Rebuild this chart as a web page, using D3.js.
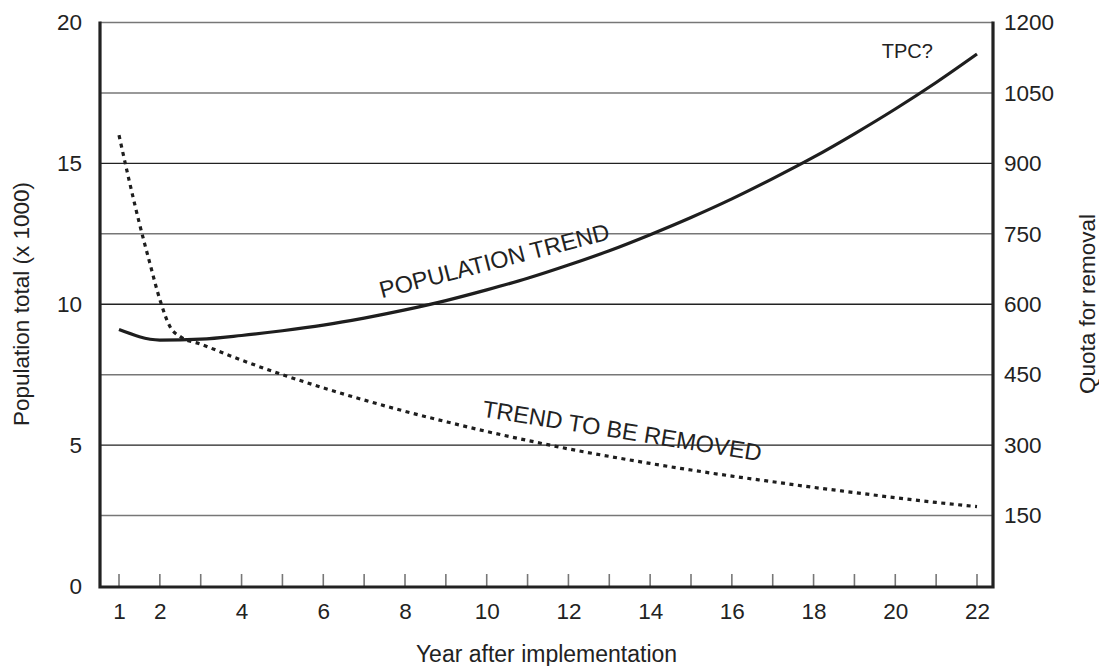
<!DOCTYPE html>
<html>
<head>
<meta charset="utf-8">
<script src="https://cdn.jsdelivr.net/npm/d3@7"></script>
<style>
  body { margin: 0; background: #fff; }
  svg text { font-family: "Liberation Sans", Arial, sans-serif; fill: #222; }
</style>
</head>
<body>
<div id="chart"></div>
<script>
// Data
const years = [1, 2, 3, 4, 5, 6, 7, 8, 9, 10, 11, 12, 13, 14, 15, 16, 17, 18, 19, 20, 21, 22];
const populationTotal = [9.1, 8.73, 8.76, 8.89, 9.06, 9.26, 9.51, 9.8, 10.13, 10.51, 10.92, 11.39,
  11.9, 12.47, 13.08, 13.74, 14.46, 15.22, 16.05, 16.93, 17.87, 18.88];

const quotaYears = [1, 1.25, 1.5, 1.75, 2, 2.25, 2.5, 3, 4, 5, 6, 7, 8, 9, 10, 11, 12, 13, 14, 15,
  16, 17, 18, 19, 20, 21, 22];
const quotaForRemoval = [960, 863, 772, 689, 610, 552, 531, 515, 481, 450, 422, 396, 372, 350, 329,
  310, 292, 276, 261, 247, 234, 222, 210, 199, 188, 178, 169];

const leftTicks = [0, 5, 10, 15, 20];
const rightTicks = [150, 300, 450, 600, 750, 900, 1050, 1200];
const gridValues = [2.5, 5, 7.5, 10, 12.5, 15, 17.5, 20];
const xLabelTicks = [1, 2, 4, 6, 8, 10, 12, 14, 16, 18, 20, 22];

const width = 1099, height = 666;
const plotLeft = 100, plotRight = 993;

const svg = d3.select("#chart").append("svg")
  .attr("width", width)
  .attr("height", height);

// Scales
const x = d3.scaleLinear().domain([1, 22]).range([119, 977]);
const yLeft = d3.scaleLinear().domain([0, 20]).range([586, 22.5]);
const yRight = d3.scaleLinear().domain([0, 1200]).range([586, 22.5]);

// Gridlines: multiples of 5 dark, the rest grey
svg.append("g").selectAll("line")
  .data(gridValues)
  .join("line")
  .attr("x1", plotLeft)
  .attr("x2", plotRight)
  .attr("y1", d => yLeft(d))
  .attr("y2", d => yLeft(d))
  .attr("stroke", d => (d % 5 === 0 && d < 20) ? "#222" : "#777")
  .attr("stroke-width", d => (d % 5 === 0 && d < 20) ? 1.3 : 1.6);

// Bottom ticks pointing inward
svg.append("g").selectAll("line")
  .data(years)
  .join("line")
  .attr("x1", d => x(d))
  .attr("x2", d => x(d))
  .attr("y1", 587)
  .attr("y2", 574)
  .attr("stroke", "#777")
  .attr("stroke-width", 1.6);

// Frame: left, right and bottom axis lines
svg.append("path")
  .attr("d", `M${plotLeft},${yLeft(20) - 1}V587H${plotRight}V${yLeft(20) - 1}`)
  .attr("fill", "none")
  .attr("stroke", "#222")
  .attr("stroke-width", 3.2);

// Axis labels
const xAxis = svg.append("g")
  .attr("transform", "translate(0,587)")
  .call(d3.axisBottom(x).tickValues(xLabelTicks).tickSize(0).tickPadding(16.5));
xAxis.select(".domain").remove();
xAxis.selectAll("text").style("font-size", "22.5px").attr("fill", "#222");

const leftAxis = svg.append("g")
  .attr("transform", `translate(${plotLeft},0)`)
  .call(d3.axisLeft(yLeft).tickValues(leftTicks).tickSize(0).tickPadding(18));
leftAxis.select(".domain").remove();
leftAxis.selectAll("text").style("font-size", "22.5px").attr("fill", "#222");

const rightAxis = svg.append("g")
  .attr("transform", `translate(${plotRight},0)`)
  .call(d3.axisRight(yRight).tickValues(rightTicks).tickFormat(d3.format("d"))
    .tickSize(0).tickPadding(11));
rightAxis.select(".domain").remove();
rightAxis.selectAll("text").style("font-size", "22.5px").attr("fill", "#222");

// Axis titles
svg.append("text")
  .attr("x", (plotLeft + plotRight) / 2)
  .attr("y", 661.5)
  .attr("text-anchor", "middle")
  .style("font-size", "23px")
  .text("Year after implementation");

svg.append("text")
  .attr("transform", "translate(29,304) rotate(-90)")
  .attr("text-anchor", "middle")
  .style("font-size", "22.5px")
  .text("Population total (x 1000)");

svg.append("text")
  .attr("transform", "translate(1095,304) rotate(-90)")
  .attr("text-anchor", "middle")
  .style("font-size", "22.5px")
  .text("Quota for removal");

// Population trend (solid)
const popLine = d3.line()
  .x((d, i) => x(years[i]))
  .y(d => yLeft(d))
  .curve(d3.curveMonotoneX);

svg.append("path")
  .datum(populationTotal)
  .attr("d", popLine)
  .attr("fill", "none")
  .attr("stroke", "#1e1e1e")
  .attr("stroke-width", 3.2);

// Quota trend (dotted)
const quotaLine = d3.line()
  .x((d, i) => x(quotaYears[i]))
  .y(d => yRight(d))
  .curve(d3.curveMonotoneX);

svg.append("path")
  .datum(quotaForRemoval)
  .attr("d", quotaLine)
  .attr("fill", "none")
  .attr("stroke", "#1e1e1e")
  .attr("stroke-width", 3.2)
  .attr("stroke-dasharray", "4,4.5");

// Annotations
svg.append("text")
  .attr("transform", `translate(${x(7.43)},${yLeft(10.21)}) rotate(-14.5)`)
  .style("font-size", "23.5px")
  .text("POPULATION TREND");

svg.append("text")
  .attr("transform", `translate(${x(9.87)},${yRight(361)}) rotate(9.1)`)
  .style("font-size", "23.5px")
  .text("TREND TO BE REMOVED");

svg.append("text")
  .attr("x", x(19.67))
  .attr("y", yLeft(18.73))
  .style("font-size", "20px")
  .text("TPC?");
</script>
</body>
</html>
